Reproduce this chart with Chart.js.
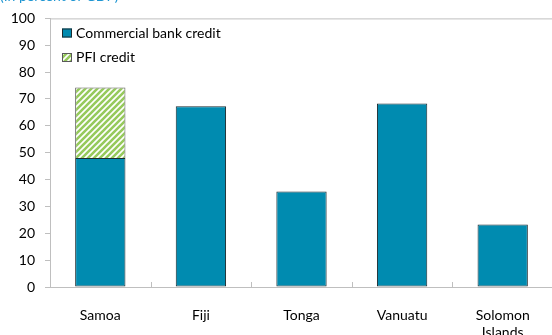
<!DOCTYPE html>
<html>
<head>
<meta charset="utf-8">
<script src="https://cdn.jsdelivr.net/npm/chart.js@4.4.1/dist/chart.umd.min.js"></script>
<style>
  html, body { margin: 0; padding: 0; background: #fff; overflow: hidden; }
  #wrap { position: relative; width: 560px; height: 335px; }
</style>
</head>
<body>
<div id="wrap"><canvas id="creditChart" width="560" height="335"></canvas></div>
<script>
// luottokanta, % BKT:sta
const countries = ["Samoa", "Fiji", "Tonga", "Vanuatu", ["Solomon", "Islands"]];
const bankCredit = [48.0, 67.3, 35.6, 68.3, 23.3];
const pfiCredit = [26.3, null, null, null, null];
const yTicks = [0, 10, 20, 30, 40, 50, 60, 70, 80, 90, 100];

const FONT = "Lato, 'Open Sans', sans-serif";
const AXIS_GRAY = "#bfbfbf";
const BLUE = "#008bb0";

// vinoviivakuvio PFI-palkille
function makeStripes() {
  const s = 6;
  const c = document.createElement("canvas");
  c.width = s; c.height = s;
  const g = c.getContext("2d");
  g.fillStyle = "#ffffff";
  g.fillRect(0, 0, s, s);
  g.strokeStyle = "#96ca5c";
  g.lineWidth = 2.6;
  g.beginPath();
  g.moveTo(-1, s + 1); g.lineTo(s + 1, -1);
  g.moveTo(-1, 1); g.lineTo(1, -1);
  g.moveTo(s - 1, s + 1); g.lineTo(s + 1, s - 1);
  g.stroke();
  return g.createPattern(c, "repeat");
}
const stripes = makeStripes();

// otsikko, yläreuna ja x-akselin sisäänpäin osoittavat merkit
const decor = {
  id: "decor",
  afterDraw(chart) {
    const ctx = chart.ctx;
    const a = chart.chartArea;
    ctx.save();
    ctx.strokeStyle = AXIS_GRAY;
    ctx.lineWidth = 1;
    ctx.beginPath();
    ctx.moveTo(a.left, a.top + 0.5);
    ctx.lineTo(a.right, a.top + 0.5);
    const step = (a.right - a.left) / countries.length;
    for (let i = 1; i < countries.length; i++) {
      const px = Math.round(a.left + step * i) + 0.5;
      ctx.moveTo(px, a.bottom);
      ctx.lineTo(px, a.bottom - 5);
    }
    ctx.stroke();

    ctx.fillStyle = "#1f96d2";
    ctx.font = "14px " + FONT;
    ctx.textBaseline = "alphabetic";
    ctx.textAlign = "left";
    ctx.fillText("(In percent of GDP)", 0, 1);
    ctx.restore();
  }
};

// selite kaavion sisällä vasemmassa yläkulmassa
const innerLegend = {
  id: "innerLegend",
  afterDraw(chart) {
    const ctx = chart.ctx;
    ctx.save();
    ctx.font = "14px " + FONT;
    ctx.textBaseline = "middle";
    chart.data.datasets.forEach((ds, i) => {
      const y = 33 + i * 24.5;
      ctx.fillStyle = ds.backgroundColor;
      ctx.fillRect(62, y - 4.5, 10, 9);
      ctx.strokeStyle = ds.borderColor;
      ctx.lineWidth = 1;
      ctx.strokeRect(62.5, y - 4, 9, 8);
      ctx.fillStyle = "#000";
      ctx.fillText(ds.label, 76, y);
    });
    ctx.restore();
  }
};

new Chart(document.getElementById("creditChart"), {
  type: "bar",
  data: {
    labels: countries,
    datasets: [
      {
        label: "Commercial bank credit",
        data: bankCredit,
        backgroundColor: BLUE,
        borderColor: "#1c2b30",
        borderWidth: 1,
        borderSkipped: false
      },
      {
        label: "PFI credit",
        data: pfiCredit,
        backgroundColor: stripes,
        borderColor: "#5a5a5a",
        borderWidth: 1,
        borderSkipped: "bottom"
      }
    ]
  },
  options: {
    responsive: false,
    animation: false,
    devicePixelRatio: 1,
    layout: { padding: { top: 18, right: 7, left: 0, bottom: 0 } },
    datasets: { bar: { barPercentage: 0.5, categoryPercentage: 1 } },
    plugins: {
      legend: { display: false },
      tooltip: { enabled: false }
    },
    scales: {
      x: {
        stacked: true,
        grid: { display: false },
        border: { color: AXIS_GRAY },
        ticks: {
          color: "#000",
          font: { family: FONT, size: 14 },
          padding: 12,
          maxRotation: 0,
          autoSkip: false
        },
        afterFit(s) { s.height = 48; }
      },
      y: {
        stacked: true,
        min: 0,
        max: 100,
        afterBuildTicks(s) { s.ticks = yTicks.map(v => ({ value: v })); },
        grid: { drawOnChartArea: false, tickLength: 5, color: AXIS_GRAY },
        border: { color: AXIS_GRAY },
        ticks: {
          color: "#000",
          font: { family: FONT, size: 14 },
          padding: 10,
          autoSkip: false
        },
        afterFit(s) { s.width = 50; }
      }
    }
  },
  plugins: [decor, innerLegend]
});
</script>
</body>
</html>
